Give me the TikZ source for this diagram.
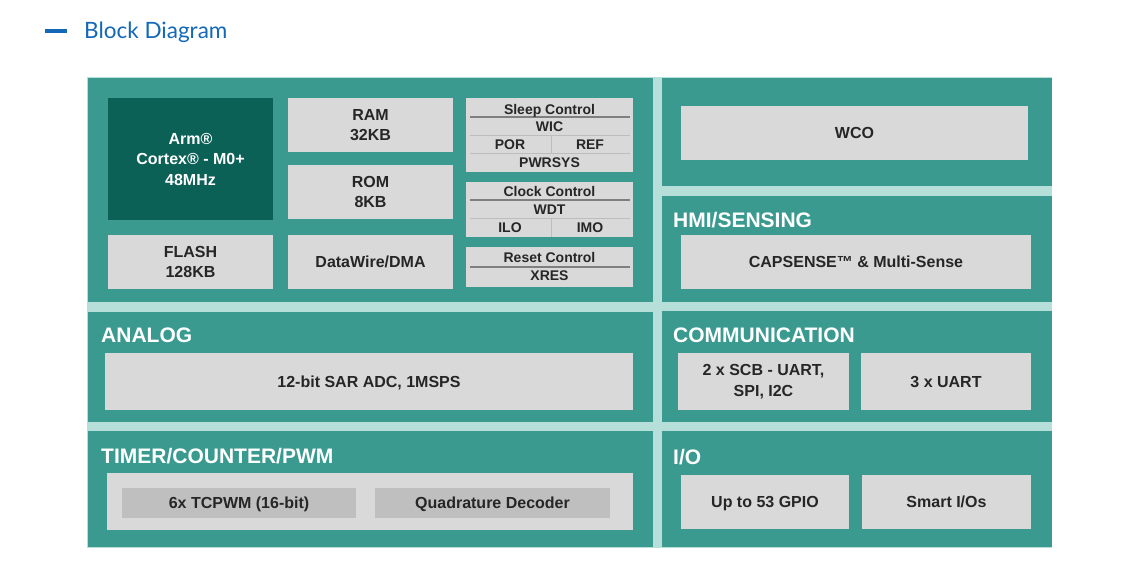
\documentclass[tikz,border=0pt]{standalone}
\usepackage{fontspec}
\setmainfont{Liberation Sans}
\newfontfamily\titlefont{Lato}
\definecolor{panelc}{HTML}{3A9A8F}
\definecolor{gapc}{HTML}{B6DFDA}
\definecolor{boxg}{HTML}{D9D9D9}
\definecolor{boxd}{HTML}{BFBFBF}
\definecolor{cpuc}{HTML}{0C6157}
\definecolor{txtc}{HTML}{262626}
\definecolor{ttlc}{HTML}{1368B8}
\definecolor{sepd}{HTML}{7F7F7F}
\definecolor{sepl}{HTML}{BDBDBD}
\tikzset{
  rectnode/.style={rectangle, anchor=north west, inner sep=0pt, outer sep=0pt, draw=none},
  panel/.style={rectnode, fill=panelc},
  gbox/.style={rectnode, fill=boxg, text=txtc, align=center,
    font=\fontsize{16}{20.5}\selectfont\bfseries},
  oneline/.style={text height=11.5pt, text depth=0pt},
  dbox/.style={gbox, fill=boxd},
  cpubox/.style={gbox, fill=cpuc, text=white},
  ctlbox/.style={rectnode, fill=boxg},
  ctltext/.style={inner sep=0pt, text=txtc, text height=10pt, text depth=0pt,
    font=\fontsize{14}{16}\selectfont\bfseries},
  ptitle/.style={anchor=west, inner sep=0pt, text=white, text height=15pt, text depth=0pt,
    font=\fontsize{21}{24}\selectfont\bfseries},
  darksep/.style={draw=sepd, line width=2pt},
  lightsep/.style={draw=sepl, line width=1pt},
}
\begin{document}
\begin{tikzpicture}[x=1pt,y=-1pt]
\useasboundingbox (0,0) rectangle (1140,560);
% page title
\draw[ttlc, line width=4pt] (45,31) -- (67,31);
\node[anchor=west, inner sep=0pt, text=ttlc, text height=16pt, text depth=0pt,
  font=\titlefont\fontsize{22.5}{26}\selectfont] (title) at (84,30) {Block Diagram};
% background gaps
\node[rectnode, fill=gapc, minimum width=965, minimum height=471] (bg) at (87,77) {};
% panels
\node[panel, minimum width=565, minimum height=224] (ptop) at (88,78) {};
\node[panel, minimum width=565, minimum height=110] (panalog) at (88,312) {};
\node[panel, minimum width=565, minimum height=116] (ptimer) at (88,431) {};
\node[panel, minimum width=390, minimum height=108] (pwco) at (662,78) {};
\node[panel, minimum width=390, minimum height=106] (phmi) at (662,196) {};
\node[panel, minimum width=390, minimum height=111] (pcomm) at (662,311) {};
\node[panel, minimum width=390, minimum height=116] (pio) at (662,431) {};
% panel titles
\node[ptitle] (tanalog) at (101,335) {ANALOG};
\node[ptitle] (ttimer) at (101,456) {TIMER/COUNTER/PWM};
\node[ptitle] (thmi) at (673,220) {HMI/SENSING};
\node[ptitle] (tcomm) at (673,335) {COMMUNICATION};
\node[ptitle] (tio) at (673,457) {I/O};
% top-left blocks
\node[cpubox, minimum width=165, minimum height=122] (cpu) at (108,98) {Arm®\\Cortex® - M0+\\48MHz};
\node[gbox, minimum width=165, minimum height=54] (flash) at (108,235) {FLASH\\128KB};
\node[gbox, minimum width=165, minimum height=54] (ram) at (288,98) {RAM\\32KB};
\node[gbox, minimum width=165, minimum height=54] (rom) at (288,165) {ROM\\8KB};
\node[gbox, oneline, minimum width=165, minimum height=54] (dma) at (288,235) {DataWire/DMA};
% control blocks
\node[ctlbox, minimum width=167, minimum height=74] (sleep) at (466,98) {};
\draw[darksep] (470,117) -- (630,117);
\draw[lightsep] (470,135) -- (630,135);
\draw[lightsep] (470,153) -- (630,153);
\draw[lightsep] (551,135) -- (551,153);
\node[ctltext] (tsleep) at (549.5,109) {Sleep Control};
\node[ctltext] (twic) at (549.5,126) {WIC};
\node[ctltext] (tpor) at (510,144) {POR};
\node[ctltext] (tref) at (590,144) {REF};
\node[ctltext] (tpwr) at (549.5,162) {PWRSYS};
\node[ctlbox, minimum width=167, minimum height=55] (clock) at (466,182) {};
\draw[darksep] (470,200) -- (630,200);
\draw[lightsep] (470,218) -- (630,218);
\draw[lightsep] (551,218) -- (551,237);
\node[ctltext] (tclock) at (549.5,191) {Clock Control};
\node[ctltext] (twdt) at (549.5,209) {WDT};
\node[ctltext] (tilo) at (510,227.5) {ILO};
\node[ctltext] (timo) at (590,227.5) {IMO};
\node[ctlbox, minimum width=167, minimum height=40] (reset) at (466,247) {};
\draw[darksep] (470,267) -- (630,267);
\node[ctltext] (treset) at (549.5,257.5) {Reset Control};
\node[ctltext] (txres) at (549.5,275.5) {XRES};
% right column
\node[gbox, oneline, minimum width=347, minimum height=54] (wco) at (681,106) {WCO};
\node[gbox, oneline, minimum width=350, minimum height=54] (caps) at (681,235) {CAPSENSE™ \& Multi-Sense};
\node[gbox, minimum width=171, minimum height=57] (scb) at (678,353) {2 x SCB - UART,\\SPI, I2C};
\node[gbox, oneline, minimum width=170, minimum height=57] (uart) at (861,353) {3 x UART};
\node[gbox, oneline, minimum width=168, minimum height=54] (gpio) at (681,475) {Up to 53 GPIO};
\node[gbox, oneline, minimum width=169, minimum height=54] (smart) at (862,475) {Smart I/Os};
% analog and timer
\node[gbox, oneline, minimum width=528, minimum height=57] (adc) at (105,353) {12-bit SAR ADC, 1MSPS};
\node[gbox, minimum width=526, minimum height=57] (tcbg) at (107,473) {};
\node[dbox, oneline, minimum width=234, minimum height=30] (tcpwm) at (122,488) {6x TCPWM (16-bit)};
\node[dbox, oneline, minimum width=235, minimum height=30] (quad) at (375,488) {Quadrature Decoder};
\end{tikzpicture}
\end{document}
